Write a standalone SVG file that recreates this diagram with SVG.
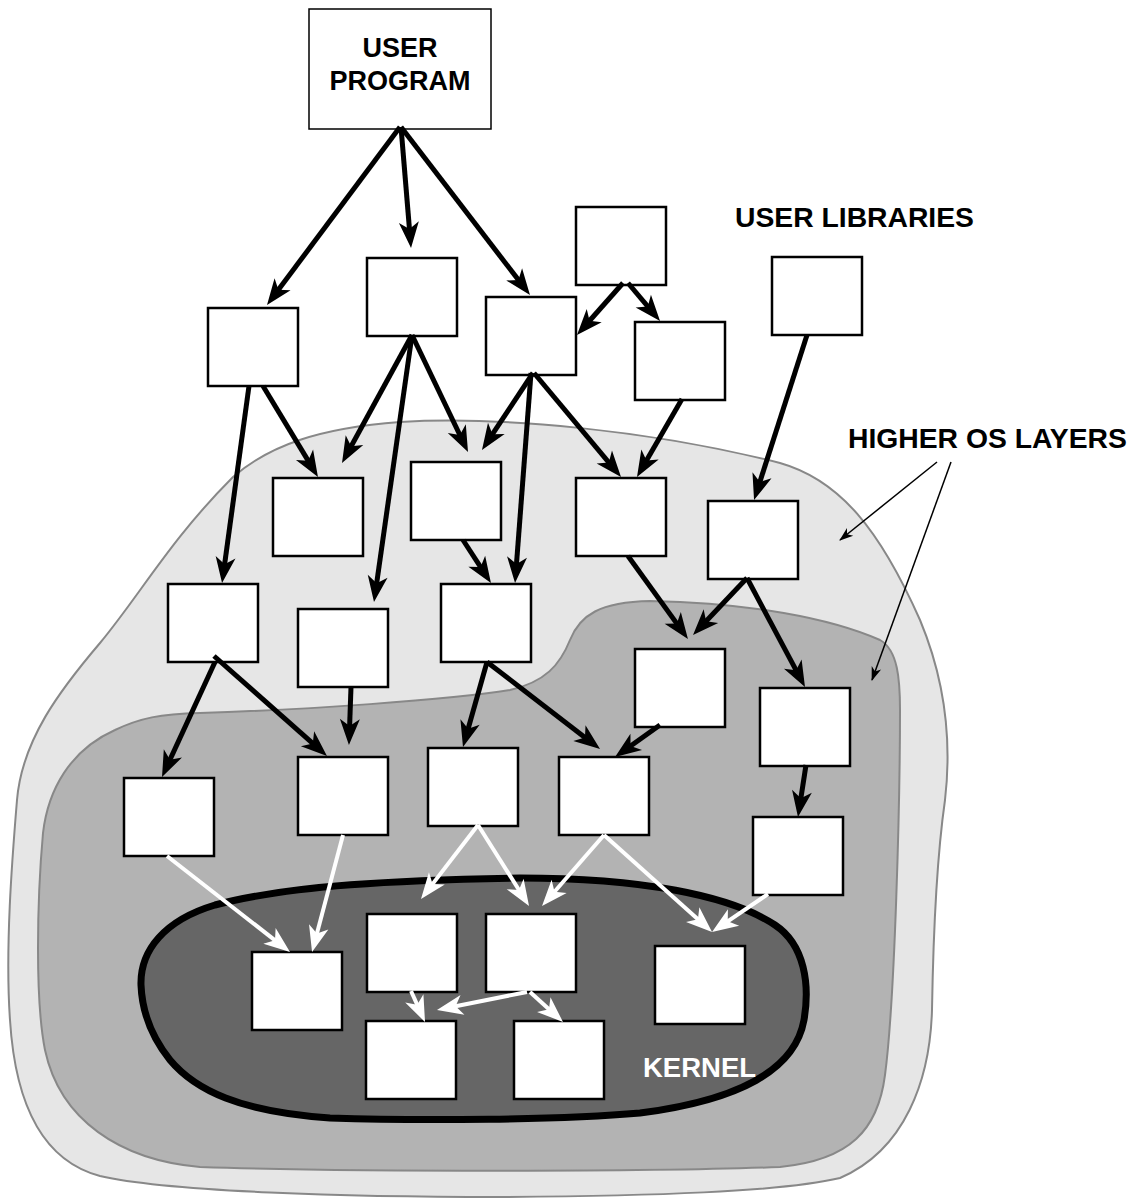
<svg xmlns="http://www.w3.org/2000/svg" width="1133" height="1201" viewBox="0 0 1133 1201">
<style>
.node rect{fill:#fff;stroke:#000;stroke-width:2.5}
.lbl{font-family:"Liberation Sans",Arial,sans-serif;font-weight:bold;font-size:27px}
.big{font-size:28.3px}
.blk{stroke:#000;stroke-width:5;fill:none;marker-end:url(#hb)}
.wht{stroke:#fff;stroke-width:4;fill:none;marker-end:url(#hw)}
.thin{stroke:#000;stroke-width:1.5;fill:none;marker-end:url(#ht)}
</style>
<defs>
<marker id="hb" markerUnits="userSpaceOnUse" orient="auto" refX="0" refY="0" markerWidth="30" markerHeight="24" overflow="visible"><path d="M 10 0 L -16 -10 L -9 0 L -16 10 Z" fill="#000"/></marker>
<marker id="hw" markerUnits="userSpaceOnUse" orient="auto" refX="0" refY="0" markerWidth="30" markerHeight="24" overflow="visible"><path d="M 10 0 L -16 -10 L -9 0 L -16 10 Z" fill="#fff"/></marker>
<marker id="ht" markerUnits="userSpaceOnUse" orient="auto" refX="0" refY="0" markerWidth="16" markerHeight="12" overflow="visible"><path d="M 1 0 L -13 -5 L -9 0 L -13 5 Z" fill="#000"/></marker>
</defs>
<rect width="1133" height="1201" fill="#fff"/>
<g id="layers">
<path id="higher-outer" d="M 17 800 C 22 740, 60 690, 100 643 C 140 595, 170 540, 233 477 C 270 445, 320 428, 400 422 C 500 416, 650 430, 780 463 C 840 480, 880 530, 920 620 C 945 680, 952 740, 945 800 C 935 870, 933 950, 932 1010 C 930 1080, 905 1150, 840 1178 C 780 1192, 650 1196, 500 1197 C 350 1197, 170 1192, 100 1176 C 40 1160, 15 1100, 10 1020 C 5 950, 12 860, 17 800 Z" fill="#e6e6e6" stroke="#888" stroke-width="2"/>
<path id="higher-inner" d="M 43 833 C 48 790, 70 750, 115 730 C 140 718, 160 714, 200 713 C 300 710, 450 700, 510 690 C 545 682, 560 665, 570 640 C 580 615, 600 602, 650 601 C 750 603, 830 618, 880 640 C 898 650, 900 680, 900 710 C 900 800, 895 1000, 885 1075 C 878 1130, 850 1160, 780 1167 C 650 1172, 350 1172, 200 1167 C 120 1160, 60 1120, 45 1050 C 35 1000, 37 900, 43 833 Z" fill="#b3b3b3" stroke="#888" stroke-width="2"/>
<path id="kernel" d="M 141 985 C 140 950, 165 920, 215 905 C 290 885, 400 880, 520 878 C 640 878, 730 895, 775 925 C 805 945, 810 985, 804 1020 C 795 1070, 740 1100, 640 1113 C 560 1120, 420 1121, 330 1118 C 240 1112, 195 1090, 170 1060 C 150 1035, 142 1010, 141 985 Z" fill="#666" stroke="#000" stroke-width="7"/>
</g>
<g id="labels">
<text class="lbl big" x="735" y="227">USER LIBRARIES</text>
<text class="lbl big" x="848" y="448">HIGHER OS LAYERS</text>
<text class="lbl" x="643" y="1077" fill="#fff" style="font-size:27.5px">KERNEL</text>
</g>
<g id="nodes">
<g id="user-program" class="node"><rect x="309" y="9" width="182" height="120" style="stroke-width:1.5"/><text class="lbl" x="400" y="57" text-anchor="middle">USER</text><text class="lbl" x="400" y="90" text-anchor="middle">PROGRAM</text></g>
<g id="nA" class="node"><rect x="208" y="308" width="90" height="78"/></g>
<g id="nB" class="node"><rect x="367" y="258" width="90" height="78"/></g>
<g id="nC" class="node"><rect x="486" y="297" width="90" height="78"/></g>
<g id="nD" class="node"><rect x="576" y="207" width="90" height="78"/></g>
<g id="nE" class="node"><rect x="635" y="322" width="90" height="78"/></g>
<g id="nF" class="node"><rect x="772" y="257" width="90" height="78"/></g>
<g id="nG" class="node"><rect x="273" y="478" width="90" height="78"/></g>
<g id="nH" class="node"><rect x="411" y="462" width="90" height="78"/></g>
<g id="nI" class="node"><rect x="576" y="478" width="90" height="78"/></g>
<g id="nJ" class="node"><rect x="708" y="501" width="90" height="78"/></g>
<g id="nK" class="node"><rect x="168" y="584" width="90" height="78"/></g>
<g id="nL" class="node"><rect x="298" y="609" width="90" height="78"/></g>
<g id="nM" class="node"><rect x="441" y="584" width="90" height="78"/></g>
<g id="nN" class="node"><rect x="635" y="649" width="90" height="78"/></g>
<g id="nO" class="node"><rect x="760" y="688" width="90" height="78"/></g>
<g id="nP" class="node"><rect x="124" y="778" width="90" height="78"/></g>
<g id="nQ" class="node"><rect x="298" y="757" width="90" height="78"/></g>
<g id="nR" class="node"><rect x="428" y="748" width="90" height="78"/></g>
<g id="nS" class="node"><rect x="559" y="757" width="90" height="78"/></g>
<g id="nT" class="node"><rect x="753" y="817" width="90" height="78"/></g>
<g id="nU" class="node"><rect x="252" y="952" width="90" height="78"/></g>
<g id="nV" class="node"><rect x="367" y="914" width="90" height="78"/></g>
<g id="nW" class="node"><rect x="486" y="914" width="90" height="78"/></g>
<g id="nX" class="node"><rect x="366" y="1021" width="90" height="78"/></g>
<g id="nY" class="node"><rect x="514" y="1021" width="90" height="78"/></g>
<g id="nZ" class="node"><rect x="655" y="946" width="90" height="78"/></g>
</g>
<g id="connectors">
<line class="blk" x1="400" y1="127" x2="273.0" y2="297.0"/>
<line class="blk" x1="401" y1="127" x2="410.2" y2="238.0"/>
<line class="blk" x1="401" y1="127" x2="523.9" y2="287.1"/>
<line class="blk" x1="623" y1="283" x2="583.6" y2="327.5"/>
<line class="blk" x1="628" y1="283" x2="653.6" y2="313.4"/>
<line class="blk" x1="807" y1="335" x2="757.1" y2="490.5"/>
<line class="blk" x1="682" y1="399" x2="642" y2="468.3"/>
<line class="blk" x1="534" y1="373" x2="614.6" y2="469.3"/>
<line class="blk" x1="533" y1="373" x2="487.5" y2="441.7"/>
<line class="blk" x1="531" y1="373" x2="515.8" y2="573.0"/>
<line class="blk" x1="412" y1="335" x2="346.8" y2="454.2"/>
<line class="blk" x1="412" y1="335" x2="463.7" y2="443.0"/>
<line class="blk" x1="412" y1="335" x2="375.4" y2="592.1"/>
<line class="blk" x1="263" y1="386" x2="312.8" y2="468.4"/>
<line class="blk" x1="249" y1="386" x2="223.4" y2="573.1"/>
<line class="blk" x1="463" y1="540" x2="485.5" y2="574.6"/>
<line class="blk" x1="628" y1="556" x2="682.1" y2="630.9"/>
<line class="blk" x1="747" y1="578" x2="699.9" y2="627.7"/>
<line class="blk" x1="747" y1="578" x2="800.3" y2="678.2"/>
<line class="blk" x1="806" y1="765" x2="799.5" y2="807.1"/>
<line class="blk" x1="660" y1="725" x2="623.2" y2="751.2"/>
<line class="blk" x1="487" y1="662" x2="592.1" y2="742.9"/>
<line class="blk" x1="487" y1="662" x2="465.7" y2="737.4"/>
<line class="blk" x1="351" y1="687" x2="349.3" y2="735.0"/>
<line class="blk" x1="214" y1="656" x2="319.5" y2="749.4"/>
<line class="blk" x1="215" y1="662" x2="166.2" y2="767.9"/>
<line class="wht" x1="167" y1="856" x2="282.1" y2="945.8"/>
<line class="wht" x1="343" y1="835" x2="314.6" y2="942.3"/>
<line class="wht" x1="478" y1="825" x2="427.1" y2="891.1"/>
<line class="wht" x1="478" y1="825" x2="523.7" y2="897.5"/>
<line class="wht" x1="604" y1="835" x2="548.6" y2="898.5"/>
<line class="wht" x1="604" y1="835" x2="704.6" y2="925.3"/>
<line class="wht" x1="768" y1="894" x2="720.3" y2="926.4"/>
<line class="wht" x1="411" y1="991" x2="420.9" y2="1012.9"/>
<line class="wht" x1="527" y1="992" x2="446.8" y2="1008.0"/>
<line class="wht" x1="530" y1="992" x2="555.6" y2="1015.3"/>
<line class="thin" x1="937" y1="462" x2="840" y2="540"/>
<line class="thin" x1="951" y1="462" x2="872" y2="680"/>
</g>
</svg>
